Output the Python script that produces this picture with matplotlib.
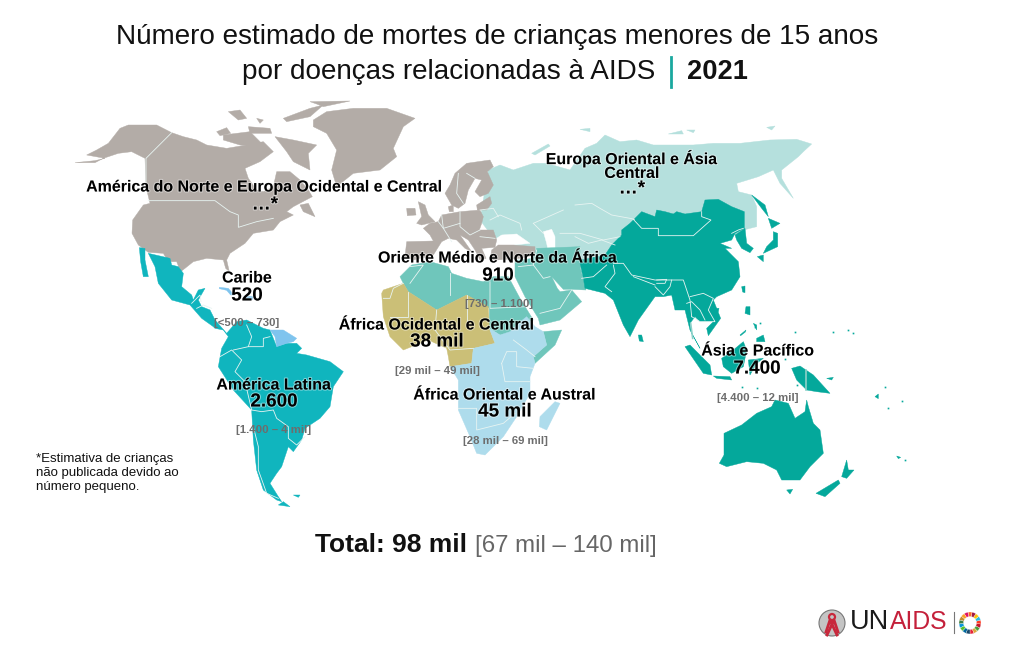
import matplotlib
matplotlib.use("Agg")
import matplotlib.pyplot as plt
import matplotlib.patheffects as pe
from matplotlib.patches import Polygon, Wedge, Circle

plt.rcParams['font.family'] = ['Liberation Sans', 'DejaVu Sans']

# Region names and estimates
regions = ["América do Norte e Europa Ocidental e Central", "Europa Oriental e Ásia\nCentral",
           "Oriente Médio e Norte da África", "Caribe", "África Ocidental e Central",
           "América Latina", "Ásia e Pacífico", "África Oriental e Austral"]
values = ["…*", "…*", "910", "520", "38 mil", "2.600", "7.400", "45 mil"]
ranges = ["", "", "[730 – 1.100]", "[<500 – 730]", "[29 mil – 49 mil]",
          "[1.400 – 4 mil]", "[4.400 – 12 mil]", "[28 mil – 69 mil]"]
total_value = "Total: 98 mil"
total_range = "[67 mil – 140 mil]"
footnote = "*Estimativa de crianças\nnão publicada devido ao\nnúmero pequeno."

# Colours
GREY = "#b3aca7"
LIGHT = "#b5e0dd"
MENA = "#6fc6bb"
ASIA = "#04a89b"
KHAKI = "#cbbf77"
EAST = "#aedcec"
LATIN = "#10b5be"
CARIB = "#7fc4ee"
LINE = "#e8f4f2"


def z(ox, oy, pts):
    # outlines were traced on 3x crops, (ox, oy) is the crop corner
    return [(ox + a / 3, oy + b / 3) for a, b in pts]


# North America and Europe
north_america = z(60, 90, [(45,218),(105,218),(130,205),(175,190),(215,185),(255,205),(258,290),(270,340),(250,345),(218,390),(216,430),(235,465),(265,487),(310,490),(325,515),(350,515),(362,545),(375,535),(400,515),(440,505),(490,510),(497,535),(508,545),(500,510),(510,490),(555,460),(580,430),(640,420),(660,395),(700,375),(680,365),(700,350),(757,320),(745,300),(720,270),(690,245),(650,245),(640,290),(610,305),(590,300),(565,265),(555,235),(600,215),(640,185),(610,155),(560,165),(500,175),(440,165),(410,150),(370,140),(335,128),(290,105),(205,105),(180,115),(145,160),(110,180),(80,195),(135,205),(105,212)])
greenland = z(60, 90, [(760,90),(800,65),(880,55),(980,55),(1065,85),(1030,110),(1000,175),(1010,200),(960,240),(880,250),(830,290),(815,240),(830,180),(800,130),(760,110)])
arctic_islands = [
    z(60, 90, [(645,140),(700,150),(770,165),(745,190),(750,240),(700,215),(680,185)]),
    z(60, 90, [(490,135),(570,125),(615,170),(540,165),(490,150)]),
    z(60, 90, [(470,125),(500,113),(512,130),(480,137)]),
    z(60, 90, [(670,85),(750,55),(790,45),(750,80),(680,95)]),
    z(60, 90, [(750,35),(870,33),(790,50),(770,42)]),
    z(60, 90, [(505,65),(540,60),(560,85),(535,90)]),
    z(60, 90, [(565,110),(630,115),(635,130),(570,130)]),
    z(60, 90, [(590,85),(610,90),(600,100)]),
    z(60, 90, [(720,345),(745,340),(765,380),(730,365)]),
]
europe = [
    z(400, 160, [(135,100),(150,75),(165,40),(200,10),(270,0),(280,20),(262,35),(280,75),(265,100),(240,110),(225,95),(245,60),(225,55),(205,90),(195,130),(175,145),(155,135)]),
    z(400, 160, [(230,135),(270,110),(275,130),(260,150),(232,150)]),
    z(400, 160, [(145,140),(160,135),(160,155),(148,155)]),
    z(400, 160, [(70,205),(90,190),(115,185),(125,165),(180,155),(240,150),(250,170),(245,190),(238,210),(280,210),(290,240),(285,262),(245,265),(258,295),(240,300),(225,270),(205,240),(180,225),(215,275),(195,265),(170,240),(145,235),(125,245),(100,285),(40,300),(15,290),(20,245),(100,243),(90,225)]),
    z(400, 160, [(55,125),(75,135),(85,165),(105,185),(65,195),(50,190),(65,170)]),
    z(400, 160, [(20,145),(45,145),(48,165),(22,167)]),
    z(370, 160, [(365,270),(385,255),(430,255),(495,260),(495,285),(450,295),(380,300),(360,300)]),
]

# Eastern Europe and Central Asia
russia = z(480, 120, [(0,300),(25,150),(60,135),(100,150),(160,130),(200,130),(270,150),(315,85),(350,70),(375,45),(420,65),(470,60),(520,75),(570,75),(640,75),(700,70),(780,70),(870,60),(950,58),(995,72),(970,95),(955,110),(905,150),(905,175),(940,235),(900,190),(880,150),(835,170),(770,190),(775,215),(815,225),(830,260),(830,320),(790,330),(700,380),(420,440),(300,440),(200,400),(120,400),(60,375),(30,340)])
novaya = z(480, 120, [(155,100),(205,72),(210,78),(165,105)])
arctic_east = [
    z(480, 120, [(300,28),(330,25),(330,35)]),
    z(480, 120, [(565,42),(605,32),(610,42)]),
    z(480, 120, [(620,30),(645,30),(640,38)]),
    z(480, 120, [(860,22),(885,18),(875,30)]),
]
caspian = z(480, 120, [(190,335),(215,328),(225,350),(225,385),(205,395),(200,370)])
black_sea = z(370, 160, [(375,238),(395,225),(440,222),(480,250),(430,255),(385,255)])

# Middle East and North Africa
north_africa = z(370, 160, [(90,350),(125,315),(180,305),(235,320),(245,340),(290,355),(340,365),(370,350),(415,350),(450,415),(490,480),(475,485),(450,490),(420,520),(390,525),(358,505),(358,445),(290,405),(200,450),(115,395),(100,370)])
arabia = z(500, 240, [(45,60),(60,60),(100,55),(110,25),(240,20),(240,80),(258,150),(215,148),(190,148),(155,110),(172,145),(180,155),(215,150),(245,185),(180,240),(120,255),(115,235),(75,170),(45,110)])
somalia = z(370, 160, [(520,515),(575,510),(555,555),(495,610),(490,590),(530,555)])

# Sub-Saharan Africa
west_africa = z(370, 160, [(35,400),(40,390),(100,370),(115,395),(200,450),(290,405),(355,440),(358,505),(375,550),(310,565),(305,610),(240,620),(235,590),(230,565),(175,540),(100,570),(60,530),(40,470)])
east_africa = z(370, 160, [(358,505),(390,525),(420,515),(445,490),(470,470),(495,500),(520,515),(530,555),(490,590),(495,610),(480,650),(480,700),(440,770),(400,830),(345,885),(320,880),(300,830),(265,750),(265,660),(240,620),(305,610),(310,565),(375,550)])
madagascar = z(370, 160, [(555,725),(570,730),(530,810),(508,800),(510,770)])

# Latin America and the Caribbean
latin_main = z(130, 245, [(55,25),(120,40),(125,60),(145,65),(160,85),(155,125),(185,150),(190,165),(205,135),(225,130),(205,165),(215,185),(240,195),(255,225),(290,265)]) + \
    z(120, 240, [(350,245),(380,240),(430,265),(450,270),(470,320),(500,310),(530,310),(545,325),(530,340),(560,345),(630,365),(670,395),(640,440),(630,500),(600,535),(555,565),(545,600),(520,635),(505,620),(485,680),(470,700),(450,730),(475,770),(485,785),(470,780),(430,750),(410,690),(400,600),(395,510),(340,450),(295,380),(305,325),(325,290),(310,270),(285,265)]) + \
    z(130, 245, [(250,245),(215,220),(180,180),(125,165),(85,115),(75,65)])
baja = z(130, 245, [(28,8),(45,10),(45,45),(55,95),(40,95),(32,50)])
tierra = z(120, 240, [(475,795),(490,785),(510,800)])
falkland = z(120, 240, [(520,765),(540,765),(535,772)])
guianas = z(120, 240, [(450,270),(490,270),(530,295),(520,305),(500,310),(470,320),(465,290)])
cuba = z(130, 245, [(268,127),(295,130),(312,150),(302,150),(290,136),(268,131)])
hispaniola = z(120, 240, [(372,168),(400,170),(398,178),(374,176)])

# Asia and Pacific
asia_main = z(575, 190, [(110,165),(140,135),(140,120),(165,100),(180,85),(200,65),(240,80),(245,60),(270,65),(295,72),(305,65),(330,72),(380,65),(390,30),(430,28),(470,50),(508,65),(508,115),(480,130),(470,150),(435,160),(470,175),(450,175),(490,215),(495,260),(470,300),(425,320),(415,330),(437,385),(400,437),(395,415),(415,395),(375,395),(360,380),(345,400),(350,430),(375,475),(345,420),(330,360),(300,360),(290,315),(265,320),(240,320),(190,390),(165,440),(145,405),(115,330),(90,310),(30,295),(25,265),(15,220),(18,210),(90,195)])
korea = z(480, 120, [(765,345),(795,325),(800,370),(820,385),(810,398),(785,385),(770,360)])
japan = [
    z(480, 120, [(865,295),(900,310),(875,325)]),
    z(480, 120, [(880,335),(893,340),(893,380),(850,400),(860,380),(880,360)]),
    z(480, 120, [(832,410),(850,405),(850,425)]),
    z(480, 120, [(815,225),(855,255),(865,290),(845,265)]),
]
asia_islands = [
    z(600, 280, [(115,165),(125,165),(130,185),(118,183)]),
    z(600, 280, [(255,200),(270,195),(330,255),(335,285),(310,280)]),
    z(600, 280, [(340,288),(390,290),(395,300),(350,295)]),
    z(600, 280, [(365,235),(400,210),(430,185),(440,210),(430,260),(395,280),(370,260)]),
    z(600, 280, [(445,240),(490,235),(470,250),(450,285)]),
    z(600, 280, [(438,80),(450,80),(450,105),(435,100)]),
    z(600, 280, [(420,165),(438,150),(436,156),(422,167)]),
    z(600, 280, [(470,175),(490,165),(495,185),(470,185)]),
    z(600, 280, [(460,130),(470,135),(470,150)]),
    z(600, 280, [(575,265),(600,258),(640,285),(690,340),(650,335),(620,330),(590,300)]),
    z(600, 280, [(345,85),(357,85),(355,95),(347,95)]),
    z(600, 280, [(425,20),(435,18),(435,38),(428,36)]),
    z(600, 280, [(680,295),(700,292),(695,300)]),
    z(600, 280, [(825,350),(835,342),(835,356)]),
    z(600, 280, [(890,528),(902,532),(895,536)]),
    z(600, 280, [(560,630),(578,628),(570,642)]),
    z(600, 280, [(648,640),(715,600),(720,610),(675,650)]),
    z(600, 280, [(725,590),(740,540),(745,570),(762,570),(740,595)]),
]
australia = z(600, 280, [(372,460),(425,435),(470,400),(515,380),(525,360),(565,370),(585,415),(615,395),(620,360),(625,380),(640,430),(660,450),(670,520),(630,560),(600,600),(545,600),(530,570),(490,550),(440,545),(380,560),(358,550),(372,525)])

# Country borders, thin pale lines
borders_north = [
    z(60, 90, [(335,128),(258,205),(258,290)]),
    z(60, 90, [(265,332),(465,332),(510,365),(535,375),(535,412),(590,395),(640,385)]),
    z(400, 160, [(125,165),(130,205),(155,245)]),
    z(400, 160, [(180,155),(180,200),(210,225),(240,210)]),
    z(400, 160, [(115,185),(130,205),(180,190)]),
    z(400, 160, [(175,40),(170,100),(190,130)]),
    z(400, 160, [(225,55),(200,40)]),
    z(400, 160, [(240,230),(285,235)]),
]
borders_east = [
    z(575, 190, [(0,45),(50,40),(75,55),(110,75),(165,85),(178,88)]),
    z(575, 190, [(0,140),(40,160),(80,150),(120,165)]),
    z(480, 120, [(160,310),(250,270)]),
    z(480, 120, [(160,310),(190,340)]),
    z(480, 120, [(240,340),(300,340),(370,360),(420,350)]),
    z(480, 120, [(30,300),(60,285),(120,310),(125,330)]),
    z(480, 120, [(0,270),(40,265),(55,290)]),
]
borders_asia = [
    z(575, 190, [(175,88),(200,115),(250,115),(250,137),(355,137),(408,90),(380,80),(380,65)]),
    z(575, 190, [(115,220),(145,220),(170,255),(240,270),(290,270),(325,270),(345,330),(350,380)]),
    z(575, 190, [(175,260),(240,285)]),
    z(575, 190, [(245,270),(275,268),(270,280),(245,280)]),
    z(575, 190, [(240,290),(265,315),(285,290),(290,270)]),
    z(575, 190, [(20,265),(55,260),(95,225)]),
    z(575, 190, [(115,225),(120,250),(90,290),(110,305)]),
    z(575, 190, [(345,320),(385,310),(415,325),(400,360),(420,395),(375,395),(350,380)]),
    z(575, 190, [(335,340),(350,335),(375,360),(390,390)]),
    z(575, 190, [(470,130),(490,120),(505,115)]),
]
borders_africa = [
    z(370, 160, [(40,415),(60,415),(70,385),(100,370)]),
    z(370, 160, [(115,395),(115,470),(60,470)]),
    z(370, 160, [(200,450),(195,510),(240,570),(310,565)]),
    z(370, 160, [(290,405),(290,500)]),
    z(370, 160, [(240,340),(240,405)]),
    z(370, 160, [(360,365),(360,445),(470,440)]),
    z(370, 160, [(120,320),(160,315),(120,370)]),
    z(370, 160, [(430,540),(470,570),(495,590)]),
    z(370, 160, [(395,610),(410,575),(440,575),(440,620),(490,625)]),
    z(370, 160, [(395,610),(405,665),(480,665)]),
    z(370, 160, [(265,745),(320,745),(320,810),(400,790),(435,760)]),
    z(500, 240, [(55,80),(100,75),(130,115),(150,110)]),
    z(500, 240, [(110,30),(100,75)]),
    z(500, 240, [(120,220),(180,205),(215,150)]),
]
borders_latin = [
    z(120, 240, [(215,190),(240,165),(243,185)]),
    z(120, 240, [(230,205),(250,195),(275,205)]),
    z(120, 240, [(380,255),(395,290),(385,320),(430,320),(430,295),(450,290)]),
    z(120, 240, [(300,350),(335,330),(365,360),(345,395),(375,425),(395,510)]),
    z(120, 240, [(385,320),(340,330)]),
    z(120, 240, [(395,510),(425,515),(460,510),(470,535),(505,560),(505,595),(530,615),(555,590)]),
    z(120, 240, [(400,560),(415,620),(415,690),(440,760),(475,775)]),
]
borders_sea = [
    z(600, 280, [(272,130),(278,175)]),
    z(600, 280, [(618,270),(618,330)]),
]
# tiny specks of Pacific islands
specks_x = [585, 700, 745, 760, 855, 905, 863, 915, 465, 480, 555, 590, 425, 470]
specks_y = [155, 155, 150, 160, 322, 362, 385, 540, 140, 130, 238, 315, 320, 325]

fig = plt.figure(figsize=(10.25, 6.58), dpi=100)
ax = fig.add_axes([0, 0, 1, 1])
ax.set_xlim(0, 1025)
ax.set_ylim(658, 0)
ax.axis("off")


def fill(outlines, color, zorder=2):
    for pts in outlines:
        ax.add_patch(Polygon(pts, closed=True, facecolor=color, edgecolor=color, linewidth=0.3, zorder=zorder))


def draw_lines(lines, color=LINE, lw=0.6):
    for pts in lines:
        ax.plot([p[0] for p in pts], [p[1] for p in pts], color=color, lw=lw, zorder=3, solid_joinstyle="miter")


fill([russia, novaya] + arctic_east, LIGHT, 1)
fill([caspian, black_sea], "white", 1.5)
fill([north_america, greenland] + arctic_islands + europe, GREY)
fill([north_africa, arabia, somalia], MENA)
fill([west_africa], KHAKI)
fill([east_africa, madagascar], EAST)
fill([latin_main, baja, tierra, falkland], LATIN)
fill([guianas], CARIB)
fill([cuba, hispaniola], CARIB)
fill([asia_main, korea, australia] + japan + asia_islands, ASIA)
draw_lines(borders_north + borders_east + borders_asia + borders_africa + borders_latin, LINE)
draw_lines(borders_sea, "#8cd0c8", 1.2)
for sx, sy in zip(specks_x, specks_y):
    ax.plot(600 + sx / 3, 280 + sy / 3, "s", ms=1.2, color=ASIA, mew=0, zorder=2)

# Title
title_kw = dict(ha="left", va="center", color="#111111", fontsize=20.1)
ax.text(116, 37, "Número estimado de mortes de crianças menores de 15 anos", **title_kw)
ax.text(242, 72, "por doenças relacionadas à AIDS", **title_kw)
ax.plot([671, 671], [57, 87], color="#1aa89f", lw=2)
ax.text(687, 72, "2021", ha="left", va="center", color="#111111", fontsize=19.6, fontweight="bold")

# Region labels
name_xy = [(265, 187), (632, 165), (498, 258), (247, 278), (437, 325), (274, 385), (758, 351), (505, 395)]
value_xy = [(265, 205), (632, 189), (498, 276), (247, 296), (437, 342), (274, 402), (757, 369), (505, 412)]
range_xy = [None, None, (499, 304), (247, 323), (437, 371), (274, 430), (758, 398), (505, 441)]
glow = [pe.withStroke(linewidth=1.5, foreground="white", alpha=0.45)]
for i, name in enumerate(regions):
    ax.text(*name_xy[i], name, ha="center", va="center", fontsize=11.5, fontweight="bold",
            color="black", linespacing=0.9, path_effects=glow, zorder=5)
    ax.text(*value_xy[i], values[i], ha="center", va="center", fontsize=13.6, fontweight="bold",
            color="black", path_effects=glow, zorder=5)
    if ranges[i]:
        ax.text(*range_xy[i], ranges[i], ha="center", va="center", fontsize=8.2, fontweight="bold",
                color="#6d6d6d", zorder=5)

ax.text(36, 473, footnote, ha="left", va="center", fontsize=9.5, color="#111111", linespacing=1.25)

# Total line
ax.text(315, 545, total_value, ha="left", va="center", fontsize=19, fontweight="bold", color="#111111")
ax.text(475, 546, total_range, ha="left", va="center", fontsize=17.3, color="#666666")

# UNAIDS logo
ax.add_patch(Circle((832, 623), 13, facecolor="#c4c4c4", edgecolor="#777777", lw=0.8, zorder=4))
ax.plot([827, 834, 838], [635, 620, 632], color="#c8283c", lw=2, zorder=5)
ax.plot([837, 830, 826], [635, 620, 632], color="#c8283c", lw=2, zorder=5)
ax.add_patch(Circle((832, 617), 3, facecolor="none", edgecolor="#c8283c", lw=1.6, zorder=5))
ax.text(850, 622, "UN", ha="left", va="center", fontsize=19.5, color="#1a1a1a")
ax.text(890, 622, "AIDS", ha="left", va="center", fontsize=17.8, color="#c4203a")
ax.plot([953.5, 953.5], [612, 633], color="#777777", lw=0.8)
sdg_colors = ["#e5243b", "#dda63a", "#4c9f38", "#c5192d", "#ff3a21", "#26bde2", "#fcc30b", "#a21942",
              "#fd6925", "#dd1367", "#fd9d24", "#bf8b2e", "#3f7e44", "#0a97d9", "#56c02b", "#00689d", "#19486a"]
for i, c in enumerate(sdg_colors):
    ax.add_patch(Wedge((970, 623), 11, 90 - (i + 1) * 360 / 17, 90 - i * 360 / 17, width=4.5,
                       facecolor=c, edgecolor="white", lw=0.2, zorder=4))

fig.savefig("out.png", dpi=100, facecolor="white")
